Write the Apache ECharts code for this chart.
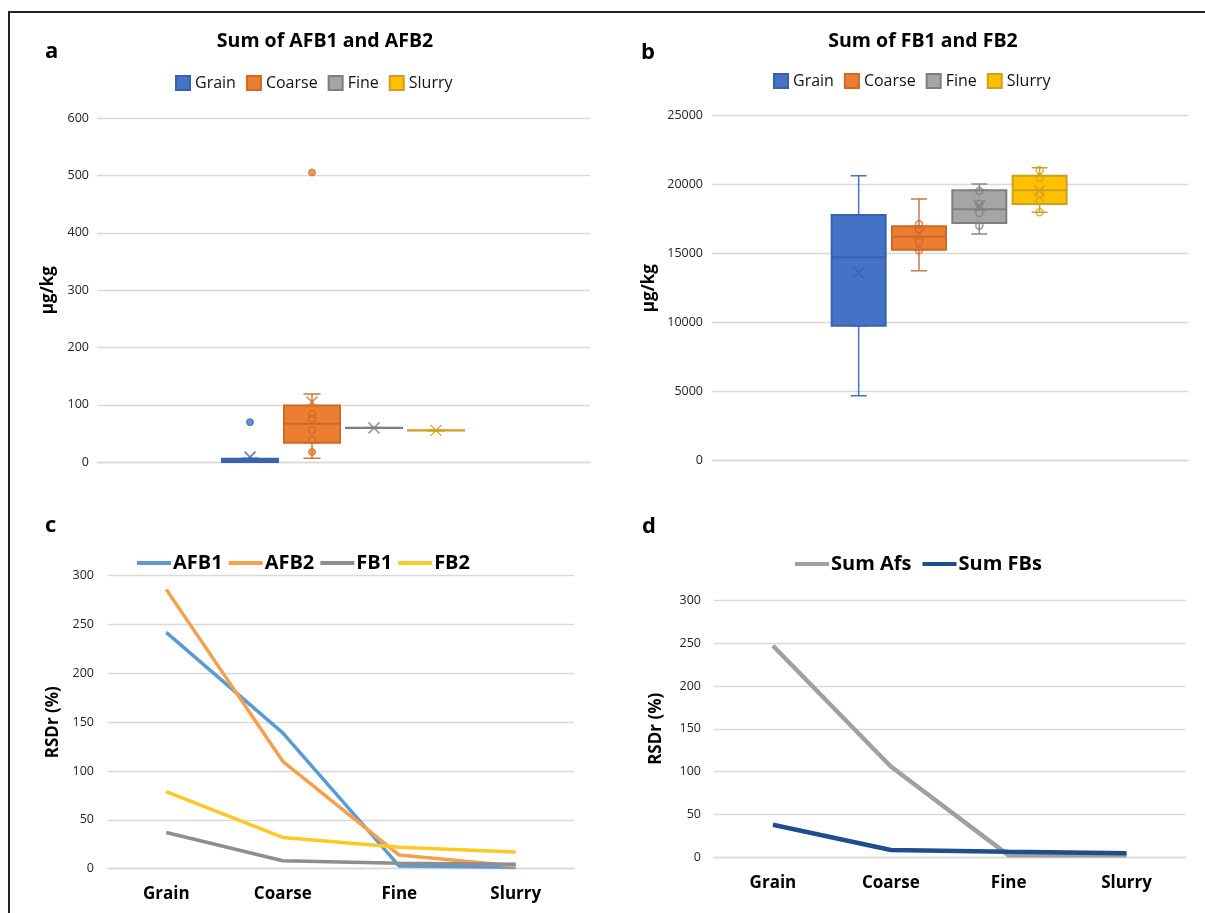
<!DOCTYPE html>
<html><head><meta charset="utf-8">
<script src="https://cdn.jsdelivr.net/npm/echarts@6/dist/echarts.min.js"></script>
<style>
html,body{margin:0;padding:0;background:#fff;overflow:hidden;}
#chart{position:absolute;left:0;top:0;width:1205px;height:913px;}
#frame{position:absolute;left:8px;top:11px;width:1205px;height:910px;border-left:2px solid #222;border-top:2px solid #222;pointer-events:none;}
</style></head><body>
<div id="chart"></div><div id="frame"></div>
<script>
// ---------- data ----------
const groups = ['Grain', 'Coarse', 'Fine', 'Slurry'];
// panel a: sum of AFB1 and AFB2 [min, Q1, median, Q3, max] (µg/kg)
const afBoxes = [[0, 0.5, 2, 6, 7], [7, 34, 67, 99, 119], [59.5, 59.8, 60, 60.2, 60.5], [55, 55.3, 55.5, 55.7, 56]];
const afMeans = [9, 105, 60, 55.5];
const afInner = [[], [84, 76, 56, 39], [], []];
const afOutliers = [[70], [505, 18], [], []];
// panel b: sum of FB1 and FB2
const fbBoxes = [[4710, 9780, 14740, 17800, 20650], [13770, 15290, 16230, 16990, 18960], [16430, 17230, 18220, 19590, 20050], [18000, 18600, 19590, 20650, 21230]];
const fbMeans = [13620, 16430, 18480, 19570];
const fbInner = [[], [17130, 16790, 15850, 15250], [19540, 18620, 17950, 17030], [21040, 20510, 19350, 18800, 18000]];
const fbOutliers = [[], [], [], []];
// panel c: RSDr (%)
const rsdNames = ['AFB1', 'AFB2', 'FB1', 'FB2'];
const rsdAFB1 = [242, 139, 2.7, 1.4];
const rsdAFB2 = [286, 110, 14, 2.7];
const rsdFB1 = [37, 8.2, 5.5, 4.5];
const rsdFB2 = [79, 32, 22, 17];
// panel d
const sumNames = ['Sum Afs', 'Sum FBs'];
const sumAfs = [247, 106, 2.3, 2.3];
const sumFBs = [38, 8.5, 6.5, 4.7];
// ticks
const afTicks = [0, 600, 100];
const fbTicks = [0, 25000, 5000];
const rsdTicks = [0, 300, 50];

// ---------- style ----------
const FONT = 'Open Sans';
const fills = ['#4472C4', '#ED7D31', '#A5A5A5', '#FFC000'];
const borders = ['#3762AE', '#CF6A25', '#7F7F7F', '#CFA01E'];
const whisk = ['#4472C4', '#C8794A', '#8A8A8A', '#D4A020'];
const lineColorsC = ['#5B9BD5', '#F5A04A', '#8E8E8E', '#FFC925'];
const lineColorsD = ['#A0A0A0', '#1F4E8C'];
const gridColor = '#d9d9d9';

function hiddenCat(grid) {
  return { type: 'category', gridIndex: grid, data: groups, show: false, boundaryGap: true };
}
function valAxis(grid, t, showIt, name, gap, margin) {
  return {
    type: 'value', gridIndex: grid, min: t[0], max: t[1], interval: t[2], show: showIt,
    name: name, nameLocation: 'middle', nameGap: gap, nameRotate: 90,
    nameTextStyle: { fontFamily: FONT, fontWeight: 'bold', fontSize: 17, color: '#000' },
    axisLine: { show: false }, axisTick: { show: false },
    axisLabel: { fontFamily: FONT, fontSize: 12.5, color: '#222', margin: margin, formatter: v => String(v) },
    splitLine: { show: true, lineStyle: { color: gridColor, width: 1.3 } }
  };
}
function baseCat(grid, data, showLabels, margin) {
  return {
    type: 'category', gridIndex: grid, data: data, boundaryGap: true,
    axisLine: { show: true, lineStyle: { color: gridColor, width: 1.3 } },
    axisTick: { show: false },
    axisLabel: { show: showLabels, fontFamily: FONT, fontWeight: 'bold', fontSize: 17, color: '#000', margin: margin }
  };
}

const series = [];
function boxPanel(boxes, means, inner, outl, xw, xb, y, whiskW, boxW, ptSize) {
  series.push({
    type: 'boxplot', xAxisIndex: xw, yAxisIndex: y, boxWidth: [whiskW, whiskW], z: 2,
    data: boxes.map((b, i) => ({ value: b, itemStyle: { color: 'rgba(0,0,0,0)', borderColor: whisk[i], borderWidth: 1.5 } })),
    silent: true
  });
  series.push({
    type: 'boxplot', xAxisIndex: xb, yAxisIndex: y, boxWidth: [boxW, boxW], z: 3,
    data: boxes.map((b, i) => ({ value: [b[1], b[1], b[2], b[3], b[3]], itemStyle: { color: fills[i], borderColor: borders[i], borderWidth: 2 } })),
    silent: true
  });
  groups.forEach((g, i) => {
    series.push({
      type: 'scatter', xAxisIndex: xb, yAxisIndex: y, z: 5, symbol: 'circle', symbolSize: ptSize,
      data: inner[i].map(v => [g, v]),
      itemStyle: { color: 'rgba(0,0,0,0)', borderColor: borders[i], borderWidth: 1.5 }, silent: true
    });
    series.push({
      type: 'scatter', xAxisIndex: xb, yAxisIndex: y, z: 5, symbol: 'circle', symbolSize: ptSize,
      data: outl[i].map(v => [g, v]),
      itemStyle: { color: fills[i], borderColor: borders[i], borderWidth: 1 }, silent: true
    });
    series.push({
      type: 'scatter', xAxisIndex: xb, yAxisIndex: y, z: 6, symbol: 'path://M0,0L10,10M10,0L0,10', symbolSize: 11,
      data: [[g, means[i]]],
      itemStyle: { color: 'none', borderColor: borders[i], borderWidth: 1.6 }, silent: true
    });
  });
}

// legend dummy series for a/b
groups.forEach((g, i) => {
  series.push({ type: 'bar', name: g, xAxisIndex: 0, yAxisIndex: 0, data: [], itemStyle: { color: fills[i], borderColor: borders[i], borderWidth: 1 } });
});
boxPanel(afBoxes, afMeans, afInner, afOutliers, 1, 2, 1, 17, 56, 7);
boxPanel(fbBoxes, fbMeans, fbInner, fbOutliers, 4, 5, 3, 16, 54, 7);

[rsdAFB1, rsdAFB2, rsdFB1, rsdFB2].forEach((d, i) => {
  series.push({ type: 'line', name: rsdNames[i], xAxisIndex: 6, yAxisIndex: 4, data: d, symbol: 'none',
    lineStyle: { color: lineColorsC[i], width: 3.5 }, itemStyle: { color: lineColorsC[i] } });
});
[sumAfs, sumFBs].forEach((d, i) => {
  series.push({ type: 'line', name: sumNames[i], xAxisIndex: 7, yAxisIndex: 5, data: d, symbol: 'none',
    lineStyle: { color: lineColorsD[i], width: 4.5 }, itemStyle: { color: lineColorsD[i] } });
});

const titleStyle = { fontFamily: FONT, fontWeight: 'bold', fontSize: 19.5, color: '#000' };
const letterStyle = { fontFamily: FONT, fontWeight: 'bold', fontSize: 22, color: '#000' };

const option = {
  animation: false,
  backgroundColor: '#fff',
  title: [
    { text: 'a', left: 40, top: 36, textStyle: letterStyle },
    { text: 'b', left: 636, top: 37, textStyle: letterStyle },
    { text: 'c', left: 40, top: 510, textStyle: letterStyle },
    { text: 'd', left: 637, top: 511, textStyle: letterStyle },
    { text: 'Sum of AFB1 and AFB2', left: 320, textAlign: 'center', top: 26, textStyle: titleStyle },
    { text: 'Sum of FB1 and FB2', left: 918, textAlign: 'center', top: 26, textStyle: titleStyle }
  ],
  legend: [
    { data: groups, left: 170, top: 70, icon: 'rect', itemWidth: 14, itemHeight: 14, itemGap: 10,
      textStyle: { fontFamily: FONT, fontSize: 16, color: '#111' } },
    { data: groups, left: 768, top: 68, icon: 'rect', itemWidth: 14, itemHeight: 14, itemGap: 10,
      textStyle: { fontFamily: FONT, fontSize: 16, color: '#111' } },
    { data: rsdNames, left: 132, top: 548, icon: 'rect', itemWidth: 34, itemHeight: 4, itemGap: 6,
      textStyle: { fontFamily: FONT, fontSize: 20, fontWeight: 'bold', color: '#000', padding: [0, 0, 0, -3] } },
    { data: sumNames, left: 790, top: 549, icon: 'rect', itemWidth: 34, itemHeight: 4, itemGap: 11,
      textStyle: { fontFamily: FONT, fontSize: 20, fontWeight: 'bold', color: '#000', padding: [0, 0, 0, -3] } }
  ],
  grid: [
    { left: 97, top: 118, width: 493, height: 344.3 },
    { left: 219, top: 118, width: 248, height: 344.3 },
    { left: 712, top: 115.7, width: 476, height: 345 },
    { left: 828.5, top: 115.7, width: 241.3, height: 345 },
    { left: 108, top: 575.7, width: 466, height: 293 },
    { left: 714, top: 600.3, width: 471.5, height: 257 }
  ],
  xAxis: [
    baseCat(0, [''], false, 8),
    hiddenCat(1), hiddenCat(1),
    baseCat(2, [''], false, 8),
    hiddenCat(3), hiddenCat(3),
    baseCat(4, groups, true, 17),
    baseCat(5, groups, true, 17)
  ],
  yAxis: [
    valAxis(0, afTicks, true, 'µg/kg', 40, 8),
    valAxis(1, afTicks, false, '', 0, 8),
    valAxis(2, fbTicks, true, 'µg/kg', 54, 9),
    valAxis(3, fbTicks, false, '', 0, 8),
    valAxis(4, rsdTicks, true, 'RSDr (%)', 46, 14),
    valAxis(5, rsdTicks, true, 'RSDr (%)', 49, 13)
  ],
  series: series
};
const chart = echarts.init(document.getElementById('chart'), null, { renderer: 'canvas' });
chart.setOption(option);
</script>
</body></html>
